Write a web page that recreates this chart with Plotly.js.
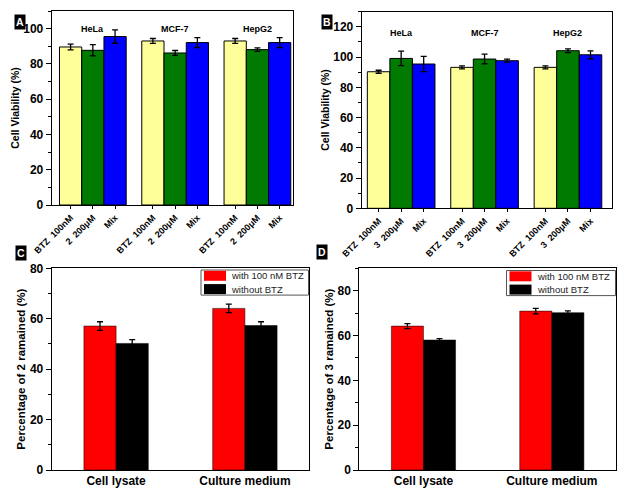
<!DOCTYPE html>
<html><head><meta charset="utf-8">
<script src="https://cdn.plot.ly/plotly-3.0.1.min.js"></script>
<style>html,body{margin:0;padding:0;background:#fff}#chart{width:621px;height:490px}</style>
</head><body><div id="chart"></div>
<script>
// ---------- data ----------
const cellLines = ["HeLa", "MCF-7", "HepG2"];
const tickLabelsA = ["BTZ  100nM", "2  200μM", "Mix"];
const tickLabelsB = ["BTZ  100nM", "3  200μM", "Mix"];
const seriesColors = ["#FFFF99", "#007A00", "#0000FF"];

// Panel A (cell viability, compound 2)
const aBTZ = [89.6, 93.0, 93.0];
const aBTZErr = [1.6, 1.4, 1.4];
const aCmp2 = [87.7, 86.2, 88.1];
const aCmp2Err = [3.2, 1.4, 1.0];
const aMix = [95.5, 92.1, 92.1];
const aMixErr = [3.8, 2.8, 2.8];

// Panel B (cell viability, compound 3)
const bBTZ = [90.3, 93.2, 93.2];
const bBTZErr = [1.0, 1.0, 1.0];
const bCmp3 = [99.1, 98.7, 104.2];
const bCmp3Err = [4.8, 3.2, 1.2];
const bMix = [95.4, 97.6, 101.5];
const bMixErr = [5.0, 1.0, 2.6];

// Panels C and D
const sampleTypes = ["Cell lysate", "Culture medium"];
const legendNames = ["with 100 nM BTZ", "without BTZ"];
const cdColors = ["#FF0000", "#000000"];
const cWith = [57.1, 64.1];
const cWithErr = [1.7, 1.7];
const cWithout = [50.2, 57.3];
const cWithoutErr = [1.5, 1.5];
const dWith = [64.2, 70.9];
const dWithErr = [1.1, 1.2];
const dWithout = [58.0, 70.2];
const dWithoutErr = [0.6, 0.8];

// ---------- build ----------
const FONT = "Arial, 'Liberation Sans', sans-serif";
const W = 621, H = 490;
const px = v => v / W, py = v => 1 - v / H;
const STEP = 3.7;

function grouped(series, errs, labels) {
  const x = [], y = [], e = [], c = [], t = [];
  cellLines.forEach((cl, g) => {
    series.forEach((s, i) => {
      x.push(g * STEP + i); y.push(s[g]); e.push(errs[i][g]);
      c.push(seriesColors[i]); t.push(labels[i]);
    });
  });
  return {x, y, e, c, t};
}
const gA = grouped([aBTZ, aCmp2, aMix], [aBTZErr, aCmp2Err, aMixErr], tickLabelsA);
const gB = grouped([bBTZ, bCmp3, bMix], [bBTZErr, bCmp3Err, bMixErr], tickLabelsB);

const errStyle = arr => ({type: 'data', array: arr, visible: true, color: '#000', thickness: 1.3, width: 3});

const traces = [
  {type: 'bar', x: gA.x, y: gA.y, width: 1, xaxis: 'x', yaxis: 'y', showlegend: false,
   marker: {color: gA.c, line: {color: '#000', width: 1}}, error_y: errStyle(gA.e)},
  {type: 'bar', x: gB.x, y: gB.y, width: 1, xaxis: 'x2', yaxis: 'y2', showlegend: false,
   marker: {color: gB.c, line: {color: '#000', width: 1}}, error_y: errStyle(gB.e)},
  {type: 'bar', name: legendNames[0], x: sampleTypes, y: cWith, xaxis: 'x3', yaxis: 'y3', showlegend: false,
   marker: {color: cdColors[0], line: {color: '#000', width: 0.5}}, error_y: errStyle(cWithErr)},
  {type: 'bar', name: legendNames[1], x: sampleTypes, y: cWithout, xaxis: 'x3', yaxis: 'y3', showlegend: false,
   marker: {color: cdColors[1], line: {color: '#000', width: 0.5}}, error_y: errStyle(cWithoutErr)},
  {type: 'bar', name: legendNames[0], x: sampleTypes, y: dWith, xaxis: 'x4', yaxis: 'y4', showlegend: false,
   marker: {color: cdColors[0], line: {color: '#000', width: 0.5}}, error_y: errStyle(dWithErr)},
  {type: 'bar', name: legendNames[1], x: sampleTypes, y: dWithout, xaxis: 'x4', yaxis: 'y4', showlegend: false,
   marker: {color: cdColors[1], line: {color: '#000', width: 0.5}}, error_y: errStyle(dWithoutErr)}
];

const base = {showline: true, mirror: true, linecolor: '#000', linewidth: 1, showgrid: false, zeroline: false,
  tickcolor: '#000', automargin: false, fixedrange: true};
function yAx(domain, anchor, range, title, tsize) {
  return Object.assign({}, base, {domain, anchor, range, tick0: 0, dtick: 20, ticks: 'outside', ticklen: 5,
    minor: {dtick: 10, ticks: 'outside', ticklen: 3, tickcolor: '#000', showgrid: false},
    tickfont: {family: FONT, size: 12, weight: 'bold', color: '#000'},
    title: {text: title, standoff: 1, font: {family: FONT, size: tsize, weight: 'bold', color: '#000'}}});
}
function xAxGroup(domain, anchor, range, g) {
  return Object.assign({}, base, {domain, anchor, range, tickmode: 'array', tickvals: g.x, ticktext: g.t,
    tickangle: -45, ticks: 'outside', ticklen: 3,
    tickfont: {family: FONT, size: 9, weight: 'bold', color: '#000'}});
}
function xAxCat(domain, anchor) {
  return Object.assign({}, base, {domain, anchor, range: [-0.5, 1.5], ticks: '',
    tickfont: {family: FONT, size: 12, weight: 'bold', color: '#000'}});
}

const annos = [];
const shapes = [];
[["A", 14, 14], ["B", 327, 14], ["C", 15, 253], ["D", 321.5, 252.5]].forEach(([t, x, y]) => {
  annos.push({text: t, xref: 'paper', yref: 'paper', x: px(x), y: py(y), showarrow: false,
    bgcolor: '#000', borderpad: 1, font: {family: FONT, size: 10.5, weight: 'bold', color: '#fff'}});
});
cellLines.forEach((cl, g) => {
  annos.push({text: cl, xref: 'x', yref: 'y', x: g * STEP + 1, y: 100, showarrow: false,
    font: {family: FONT, size: 9, weight: 'bold', color: '#000'}});
  annos.push({text: cl, xref: 'x2', yref: 'y2', x: g * STEP + 1, y: 116, showarrow: false,
    font: {family: FONT, size: 9, weight: 'bold', color: '#000'}});
});

// compact legends (box + swatches + labels) for panels C and D
function compactLegend(left, top, right) {
  const rowH = 13.3, bottom = top + 2 * rowH - 1.5;
  shapes.push({type: 'rect', xref: 'paper', yref: 'paper', x0: px(left), x1: px(right), y0: py(bottom), y1: py(top),
    line: {color: '#555', width: 1}, fillcolor: '#fff', layer: 'above'});
  legendNames.forEach((nm, i) => {
    const cy = top + 5.8 + i * rowH;
    shapes.push({type: 'rect', xref: 'paper', yref: 'paper', x0: px(left + 3), x1: px(left + 25),
      y0: py(cy + 5), y1: py(cy - 5), line: {width: 0}, fillcolor: cdColors[i], layer: 'above'});
    annos.push({text: nm, xref: 'paper', yref: 'paper', x: px(left + 28), y: py(cy), xanchor: 'left',
      yanchor: 'middle', showarrow: false, font: {family: FONT, size: 9.5, color: '#222'}});
  });
}
compactLegend(201, 270, 308.5);
compactLegend(506.5, 270.5, 615.5);

const layout = {
  width: W, height: H, margin: {l: 0, r: 0, t: 0, b: 0}, paper_bgcolor: '#fff', plot_bgcolor: '#fff',
  barmode: 'group', bargap: 0.5, bargroupgap: 0, showlegend: false,
  xaxis: xAxGroup([px(51.7), px(293)], 'y', [-0.85, 10.0], gA),
  yaxis: yAx([py(205), py(11)], 'x', [0, 110], 'Cell Viability (%)', 10.5),
  xaxis2: xAxGroup([px(361.7), px(611.7)], 'y2', [-0.75, 10.34], gB),
  yaxis2: yAx([py(208.3), py(11.7)], 'x2', [0, 130], 'Cell Viability (%)', 10.5),
  xaxis3: xAxCat([px(51.7), px(309.3)], 'y3'),
  yaxis3: yAx([py(470), py(268.3)], 'x3', [0, 80], 'Percentage of 2 ramained (%)', 11.5),
  xaxis4: xAxCat([px(359.3), px(616)], 'y4'),
  yaxis4: yAx([py(470), py(268.3)], 'x4', [0, 90], 'Percentage of 3 ramained (%)', 11.5),
  annotations: annos,
  shapes: shapes
};

Plotly.newPlot('chart', traces, layout, {staticPlot: true});
</script></body></html>
